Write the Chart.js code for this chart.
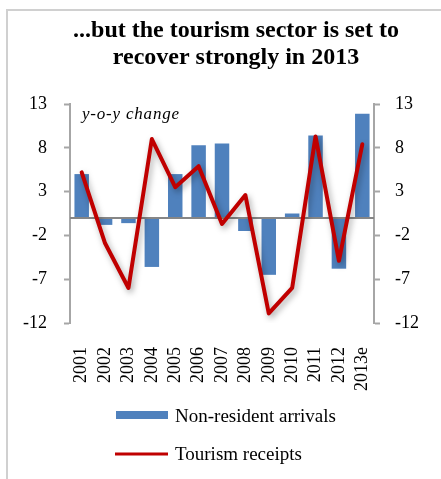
<!DOCTYPE html>
<html>
<head>
<meta charset="utf-8">
<script src="https://cdn.jsdelivr.net/npm/chart.js"></script>
<style>
  body { margin: 0; background: #fff; }
  canvas { display: block; }
</style>
</head>
<body>
<canvas id="tourismChart" width="441" height="479"></canvas>
<script>
// Year-on-year change, %
const years = ['2001', '2002', '2003', '2004', '2005', '2006', '2007', '2008', '2009', '2010', '2011', '2012', '2013e'];
const arrivals = [5.0, -0.8, -0.6, -5.6, 5.0, 8.3, 8.5, -1.5, -6.5, 0.5, 9.4, -5.8, 11.9];
const receipts = [5.2, -2.9, -8.0, 9.0, 3.5, 5.9, -0.7, 2.6, -10.9, -8.0, 9.3, -4.9, 8.4];
const yTicks = [-12, -7, -2, 3, 8, 13];
const headline = ['...but the tourism sector is set to', 'recover strongly in 2013'];

const serif = "'Liberation Serif', 'Times New Roman', serif";
const axisGray = '#a6a6a6';

Chart.defaults.font.family = serif;
Chart.defaults.color = '#000';

// white page, light frame line on the left and top, two-line headline
const framePlugin = {
    id: 'frame',
    beforeDraw(chart) {
        const ctx = chart.ctx;
        ctx.save();
        ctx.fillStyle = '#fff';
        ctx.fillRect(0, 0, chart.width, chart.height);
        ctx.strokeStyle = '#d0d0d0';
        ctx.lineWidth = 2;
        ctx.beginPath();
        ctx.moveTo(7, chart.height);
        ctx.lineTo(7, 10);
        ctx.lineTo(chart.width, 10);
        ctx.stroke();

        ctx.fillStyle = '#000';
        ctx.font = 'bold 24px ' + serif;
        ctx.textAlign = 'center';
        ctx.textBaseline = 'alphabetic';
        headline.forEach((line, i) => ctx.fillText(line, 236, 37 + i * 27));
        ctx.restore();
    }
};

// zero line over the bars, soft shadow under the receipts line
const seriesPlugin = {
    id: 'series',
    beforeDatasetDraw(chart, args) {
        if (args.index !== 1) return;
        const ctx = chart.ctx;
        ctx.save();
        ctx.shadowColor = 'rgba(0, 0, 0, 0.35)';
        ctx.shadowBlur = 6;
        ctx.shadowOffsetX = 2;
        ctx.shadowOffsetY = 3;
    },
    afterDatasetDraw(chart, args) {
        const ctx = chart.ctx;
        if (args.index === 1) {
            ctx.restore();
            return;
        }
        const area = chart.chartArea;
        const y0 = chart.scales.y.getPixelForValue(0);
        ctx.save();
        ctx.strokeStyle = '#868686';
        ctx.lineWidth = 2;
        ctx.beginPath();
        ctx.moveTo(area.left, y0);
        ctx.lineTo(area.right, y0);
        ctx.stroke();
        ctx.restore();
    }
};

// in-plot note and the stacked legend under the axis
const notesPlugin = {
    id: 'notes',
    afterDraw(chart) {
        const ctx = chart.ctx;
        const area = chart.chartArea;
        ctx.save();
        ctx.fillStyle = '#000';
        ctx.textBaseline = 'middle';
        ctx.textAlign = 'left';
        ctx.font = 'italic 17px ' + serif;
        ctx.letterSpacing = '0.8px';
        ctx.fillText('y-o-y change', area.left + 12, area.top + 11);
        ctx.letterSpacing = '0px';

        const bars = chart.data.datasets[0];
        const line = chart.data.datasets[1];
        const lx = 116;
        const top = chart.scales.x.bottom;
        ctx.font = '19px ' + serif;

        ctx.fillStyle = bars.backgroundColor;
        ctx.fillRect(lx, top + 13, 52, 8);
        ctx.fillStyle = '#000';
        ctx.fillText(bars.label, lx + 59, top + 19);

        ctx.strokeStyle = line.borderColor;
        ctx.lineWidth = 3;
        ctx.beginPath();
        ctx.moveTo(lx - 1, top + 56);
        ctx.lineTo(lx + 52, top + 56);
        ctx.stroke();
        ctx.fillText(line.label, lx + 59, top + 57);
        ctx.restore();
    }
};

const setTicks = axis => {
    axis.ticks = yTicks.map(v => ({ value: v }));
};

new Chart(document.getElementById('tourismChart'), {
    type: 'bar',
    data: {
        labels: years,
        datasets: [{
            label: 'Non-resident arrivals',
            data: arrivals,
            backgroundColor: '#4f81bd',
            barPercentage: 0.62,
            categoryPercentage: 1,
            yAxisID: 'y',
            order: 1
        }, {
            type: 'line',
            label: 'Tourism receipts',
            data: receipts,
            borderColor: '#c00000',
            borderWidth: 4,
            borderJoinStyle: 'round',
            borderCapStyle: 'round',
            pointRadius: 0,
            tension: 0,
            fill: false,
            yAxisID: 'y',
            order: 0
        }]
    },
    options: {
        responsive: false,
        animation: false,
        devicePixelRatio: 1,
        layout: {
            padding: { left: 16, right: 0, top: 104, bottom: 81 }
        },
        plugins: {
            legend: { display: false },
            tooltip: { enabled: false },
            title: { display: false }
        },
        scales: {
            x: {
                grid: { display: false, drawTicks: false },
                border: { display: false },
                ticks: {
                    minRotation: 90,
                    maxRotation: 90,
                    autoSkip: false,
                    padding: 24,
                    font: { size: 18 },
                    color: '#000'
                },
                afterFit: axis => { axis.height = 75; }
            },
            y: {
                position: 'left',
                min: -12,
                max: 13,
                afterBuildTicks: setTicks,
                grid: { drawOnChartArea: false, tickLength: 6, tickColor: axisGray, tickWidth: 2 },
                border: { color: axisGray, width: 2 },
                ticks: { padding: 17, font: { size: 18 }, color: '#000' },
                afterFit: axis => { axis.width = 54; }
            },
            y2: {
                position: 'right',
                min: -12,
                max: 13,
                afterBuildTicks: setTicks,
                grid: { drawOnChartArea: false, tickLength: 6, tickColor: axisGray, tickWidth: 2 },
                border: { color: axisGray, width: 2 },
                ticks: { padding: 15, font: { size: 18 }, color: '#000' },
                afterFit: axis => { axis.width = 67; }
            }
        }
    },
    plugins: [framePlugin, seriesPlugin, notesPlugin]
});
</script>
</body>
</html>
